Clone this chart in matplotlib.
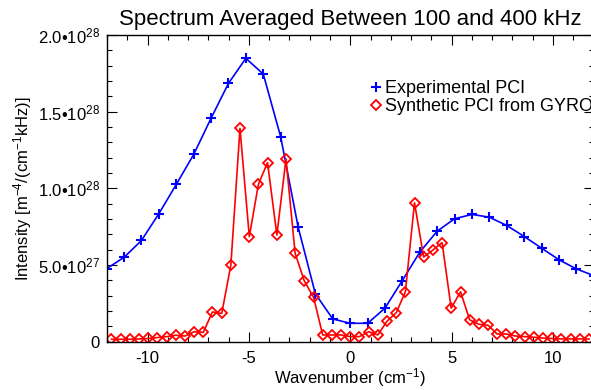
import numpy as np
import matplotlib
matplotlib.use('Agg')
import matplotlib.pyplot as plt
from matplotlib.lines import Line2D
from matplotlib.ticker import MultipleLocator

plt.rcParams['font.family'] = ['Liberation Sans', 'DejaVu Sans']
plt.rcParams['mathtext.fontset'] = 'custom'
plt.rcParams['mathtext.rm'] = 'Liberation Sans'
plt.rcParams['mathtext.it'] = 'Liberation Sans'

# wavenumbers (cm^-1) and intensities (units of 1e27)
k_exp = [-12.01, -11.15, -10.30, -9.44, -8.58, -7.72, -6.86, -6.01, -5.15, -4.29,
         -3.43, -2.57, -1.72, -0.86, 0.0, 0.86, 1.72, 2.57, 3.43, 4.29,
         5.15, 6.01, 6.86, 7.72, 8.58, 9.44, 10.30, 11.15, 12.01]
i_exp = [4.77, 5.51, 6.60, 8.35, 10.26, 12.22, 14.59, 16.84, 18.48, 17.45,
         13.35, 7.47, 3.12, 1.48, 1.20, 1.20, 2.20, 3.99, 5.84, 7.21,
         8.02, 8.30, 8.12, 7.58, 6.86, 6.10, 5.34, 4.75, 4.31]

k_syn = [-11.78, -11.33, -10.87, -10.42, -9.97, -9.51, -9.06, -8.61, -8.15, -7.70,
         -7.25, -6.80, -6.34, -5.89, -5.44, -4.98, -4.53, -4.08, -3.62, -3.17,
         -2.72, -2.27, -1.81, -1.36, -0.91, -0.45, 0.0, 0.45, 0.91, 1.36,
         1.81, 2.27, 2.72, 3.17, 3.62, 4.08, 4.53, 4.98, 5.44, 5.89,
         6.34, 6.80, 7.25, 7.70, 8.15, 8.61, 9.06, 9.51, 9.97, 10.42,
         10.87, 11.33, 11.78]
i_syn = [0.16, 0.16, 0.16, 0.18, 0.21, 0.27, 0.33, 0.42, 0.37, 0.65,
         0.61, 1.94, 1.84, 5.0, 13.92, 6.85, 10.27, 11.68, 6.96, 11.92,
         5.77, 3.97, 2.90, 0.44, 0.44, 0.44, 0.33, 0.33, 0.65, 0.44,
         1.33, 1.89, 3.26, 9.06, 5.52, 5.98, 6.46, 2.18, 3.26, 1.43,
         1.14, 1.07, 0.50, 0.50, 0.37, 0.33, 0.29, 0.24, 0.21, 0.18,
         0.18, 0.18, 0.18]

ytick_vals = [0, 5e27, 1e28, 1.5e28, 2e28]
ytick_labels = ['0', r'$\mathregular{5.0•10^{27}}$', r'$\mathregular{1.0•10^{28}}$',
                r'$\mathregular{1.5•10^{28}}$', r'$\mathregular{2.0•10^{28}}$']

fig = plt.figure(figsize=(5.91, 3.90), dpi=100)
ax = fig.add_axes([107/591, 48.3/390, 486.5/591, 306.7/390])

ax.plot(np.array(k_exp), np.array(i_exp)*1e27, color='blue', lw=1.2,
        marker='+', ms=7.5, mew=1.5)
ax.plot(np.array(k_syn), np.array(i_syn)*1e27, color='red', lw=1.2,
        marker='D', ms=5.0, mfc='none', mew=1.3)

ax.set_xlim(-12, 12)
ax.set_ylim(0, 2e28)
ax.set_xticks([-10, -5, 0, 5, 10])
ax.set_xticklabels(['-10', '-5', '0', '5', '10'])
ax.xaxis.set_minor_locator(MultipleLocator(1))
ax.set_yticks(ytick_vals)
ax.set_yticklabels(ytick_labels)
ax.yaxis.set_minor_locator(MultipleLocator(1e27))
ax.tick_params(which='both', direction='in', top=True, right=True, labelsize=12)
ax.tick_params(which='major', length=7, width=0.8)
ax.tick_params(which='minor', length=3.5, width=0.8)
ax.tick_params(axis='x', pad=7)
ax.tick_params(axis='y', pad=5)
for s in ax.spines.values():
    s.set_linewidth(1.0)

ax.set_title('Spectrum Averaged Between 100 and 400 kHz', fontsize=16, pad=7)
ax.set_xlabel(r'Wavenumber (cm$^{-1}$)', fontsize=12, labelpad=0)
ax.set_ylabel(r'Intensity [m$^{-4}$/(cm$^{-1}$kHz)]', fontsize=12, labelpad=3)

handles = [Line2D([], [], color='blue', ls='none', marker='+', ms=7.5, mew=1.5),
           Line2D([], [], color='red', ls='none', marker='D', ms=5.0, mfc='none', mew=1.3)]
fig.legend(handles, ['Experimental PCI', 'Synthetic PCI from GYRO'],
           loc='upper left', bbox_to_anchor=(371/591, 1 - 80/390),
           frameon=False, fontsize=13, handlelength=0.6, handletextpad=0.2,
           labelspacing=0.05, borderpad=0, borderaxespad=0)

fig.savefig('out.png', dpi=100)
